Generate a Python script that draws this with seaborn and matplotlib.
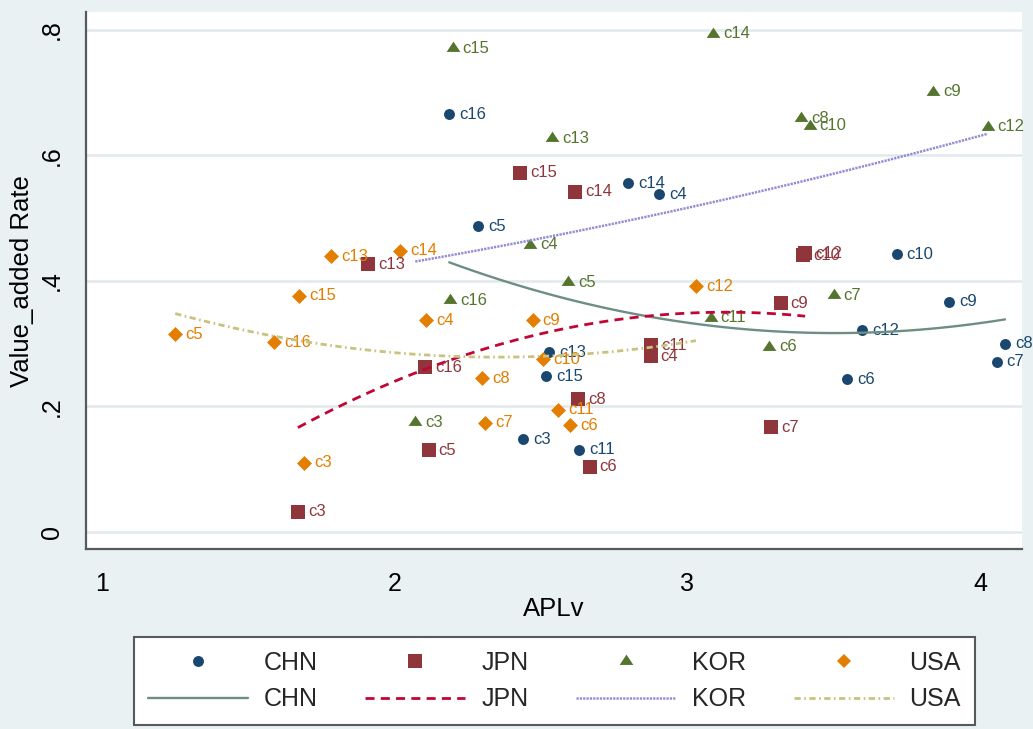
import numpy as np
import pandas as pd
import matplotlib
matplotlib.use("Agg")
import matplotlib.pyplot as plt
from matplotlib.lines import Line2D
import seaborn as sns

# ---- data: APLv vs value-added rate by industry code ----
codes = ["c3", "c4", "c5", "c6", "c7", "c8", "c9", "c10",
         "c11", "c12", "c13", "c14", "c15", "c16"]

chn_x = [2.438, 2.904, 2.286, 3.545, 4.056, 4.085, 3.895, 3.715,
         2.631, 3.597, 2.528, 2.798, 2.517, 2.186]
chn_y = [0.148, 0.538, 0.487, 0.243, 0.271, 0.300, 0.3665, 0.4425,
         0.131, 0.321, 0.286, 0.555, 0.248, 0.665]

jpn_x = [1.669, 2.874, 2.116, 2.666, 3.286, 2.626, 3.318, 3.395,
         2.877, 3.402, 1.908, 2.616, 2.427, 2.104]
jpn_y = [0.032, 0.280, 0.130, 0.1036, 0.167, 0.211, 0.364, 0.441,
         0.2976, 0.444, 0.4266, 0.542, 0.572, 0.262]

kor_x = [2.070, 2.462, 2.591, 3.280, 3.499, 3.389, 3.839, 3.417,
         3.079, 4.026, 2.538, 3.087, 2.198, 2.190]
kor_y = [0.175, 0.457, 0.398, 0.295, 0.377, 0.659, 0.701, 0.6465,
         0.341, 0.6454, 0.627, 0.793, 0.770, 0.369]

usa_x = [1.690, 2.108, 1.250, 2.600, 2.309, 2.298, 2.471, 2.507,
         2.558, 3.029, 1.782, 2.019, 1.674, 1.588]
usa_y = [0.1106, 0.337, 0.315, 0.170, 0.174, 0.2445, 0.337, 0.275,
         0.195, 0.3916, 0.439, 0.448, 0.376, 0.302]

countries = ["CHN", "JPN", "KOR", "USA"]
x_ticks = [1, 2, 3, 4]
y_ticks = [0, 0.2, 0.4, 0.6, 0.8]
y_tick_labels = ["0", ".2", ".4", ".6", ".8"]

frames = []
for name, xs, ys in [("CHN", chn_x, chn_y), ("JPN", jpn_x, jpn_y),
                     ("KOR", kor_x, kor_y), ("USA", usa_x, usa_y)]:
    frames.append(pd.DataFrame({"country": name, "code": codes,
                                "APLv": xs, "rate": ys}))
df = pd.concat(frames, ignore_index=True)

# ---- styling ----
sns.set_style("white")
plt.rcParams["font.family"] = ["Liberation Sans", "DejaVu Sans"]
plt.rcParams["lines.scale_dashes"] = False

bg = "#eaf1f3"
grid_c = "#e1e9ec"
axis_c = "#555a5c"

tri = [(-1.0, -0.5), (1.0, -0.5), (0.0, 1.0)]
marker_style = {
    "CHN": dict(marker="o", color="#1a476f", s=62),
    "JPN": dict(marker="s", color="#90353b", s=88),
    "KOR": dict(marker=tri, color="#55752f", s=98),
    "USA": dict(marker="D", color="#e37e00", s=58),
}
line_style = {
    "CHN": dict(color="#6e8e84", lw=1.7, linestyle="-"),
    "JPN": dict(color="#c10534", lw=2.0, linestyle=(0, (6.5, 4.5))),
    "KOR": dict(color="#938dd2", lw=1.8, linestyle=(0, (1.6, 0.8))),
    "USA": dict(color="#cac27e", lw=2.0, linestyle=(0, (4.5, 2.5, 1.2, 2.5))),
}

W, H = 1033, 729
fig = plt.figure(figsize=(W / 100, H / 100), dpi=100, facecolor=bg)
left, right, top, bottom = 86, 1021.7, 12, 549.3
ax = fig.add_axes([left / W, 1 - bottom / H, (right - left) / W, (bottom - top) / H])
ax.set_facecolor("white")

# scatter markers with their industry codes
for c in countries:
    sub = df[df["country"] == c]
    st = marker_style[c]
    sns.scatterplot(data=sub, x="APLv", y="rate", marker=st["marker"],
                    color=st["color"], s=st["s"], linewidth=0, ax=ax,
                    zorder=3, legend=False)
    for _, r in sub.iterrows():
        ax.annotate(r["code"], (r["APLv"], r["rate"]), xytext=(10, 0),
                    textcoords="offset pixels", ha="left", va="center",
                    fontsize=12, color=st["color"], zorder=4,
                    annotation_clip=False)

# quadratic fit lines per country
for c in countries:
    sub = df[df["country"] == c]
    sns.regplot(data=sub, x="APLv", y="rate", order=2, ci=None,
                scatter=False, truncate=True, ax=ax,
                line_kws=dict(zorder=5, **line_style[c]))

# axes
ax.set_xlim(0.945, 4.142)
ax.set_ylim(-0.0276, 0.828)
ax.set_xticks(x_ticks)
ax.set_xticklabels([str(t) for t in x_ticks])
ax.set_yticks(y_ticks)
ax.set_yticklabels(y_tick_labels)
for t in ax.get_yticklabels():
    t.set_rotation(90)
    t.set_va("center")
ax.tick_params(axis="both", which="major", labelsize=18, length=9,
               width=1.5, color=axis_c, pad=7, direction="out",
               labelcolor="black")
ax.yaxis.grid(True, color=grid_c, lw=1.8)
ax.xaxis.grid(False)
ax.set_axisbelow(True)
for s in ["top", "right"]:
    ax.spines[s].set_visible(False)
for s in ["left", "bottom"]:
    ax.spines[s].set_color(axis_c)
    ax.spines[s].set_linewidth(1.6)

ax.set_xlabel("APLv", fontsize=18.5, color="black")
ax.set_ylabel("Value_added Rate", fontsize=18.5, color="black")
ax.xaxis.set_label_coords(0.5, -0.088)
ax.yaxis.set_label_coords(-0.056, 0.5)

# legend: markers on the first row, fit lines on the second
handles, labels = [], []
for c in countries:
    st = marker_style[c]
    ms = np.sqrt(st["s"])
    handles.append(Line2D([], [], marker=st["marker"], color=st["color"],
                          linestyle="none", markersize=ms, markeredgewidth=0))
    labels.append(c)
    handles.append(Line2D([], [], **line_style[c]))
    labels.append(c)

leg = fig.legend(handles, labels, ncol=4, loc="upper left",
                 bbox_to_anchor=(134 / W, 1 - 637 / H),
                 bbox_transform=fig.transFigure, borderaxespad=0,
                 fontsize=18, handlelength=4.0, handletextpad=0.64,
                 columnspacing=1.9, borderpad=0.55, labelspacing=0.5,
                 frameon=True, fancybox=False, framealpha=1,
                 facecolor="white", edgecolor=axis_c, numpoints=1)
leg.get_frame().set_linewidth(1.5)

fig.savefig("out.png", dpi=100, facecolor=bg)
